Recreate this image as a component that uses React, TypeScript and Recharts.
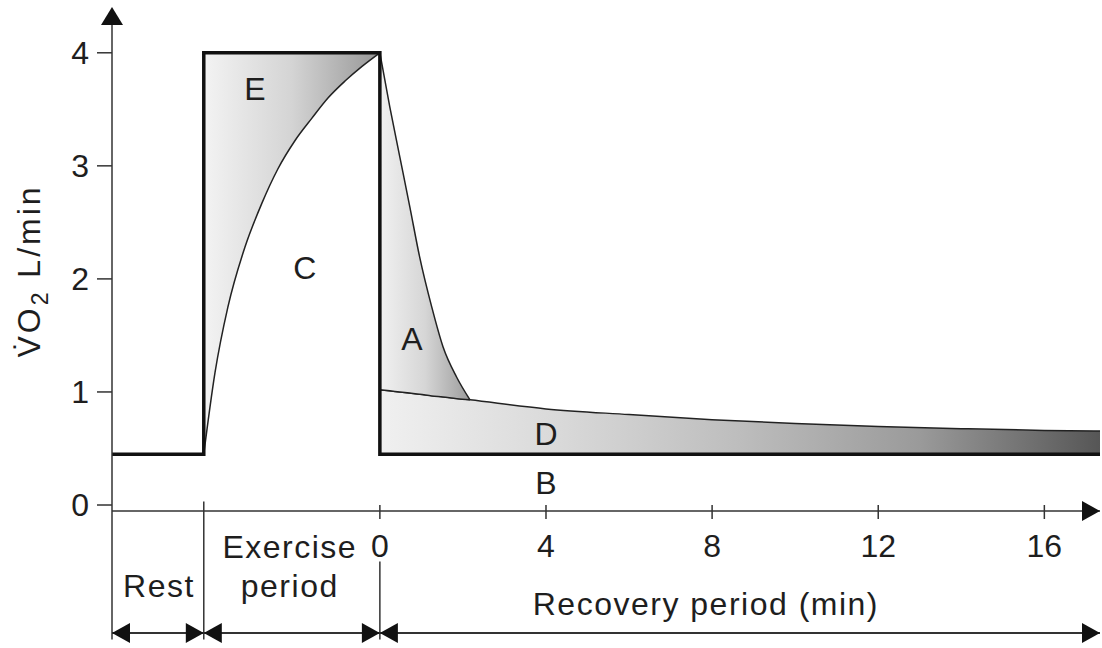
import React from "react";
import {
  ComposedChart,
  Area,
  Line,
  XAxis,
  YAxis,
  ReferenceLine,
  ReferenceDot,
} from "recharts";

const FONT = "'Liberation Sans', Arial, Helvetica, sans-serif";
const INK = "#1e1e1e";

// time in minutes, 0 = end of exercise
const T_MIN = -6.45;
const T_MAX = 17.34;
const EX_START = -4.24;
const REST_VO2 = 0.45;
const PEAK_VO2 = 4.0;

const recoveryTicks = [0, 4, 8, 12, 16];
const vo2Ticks = [0, 1, 2, 3, 4];

// rising O2 uptake during exercise (curve C)
const exerciseT = [-4.24, -3.97, -3.66, -3.25, -2.84, -2.46, -2.05, -1.64, -1.25, -0.84, -0.43, 0];
const exerciseVO2 = [0.45, 1.17, 1.75, 2.28, 2.67, 2.97, 3.22, 3.42, 3.6, 3.75, 3.88, 4.0];

// fast recovery component (curve A) and slow curve under it
const fastT = [0, 0.24, 0.48, 0.72, 0.96, 1.25, 1.52, 1.85, 2.17];
const fastVO2 = [4.0, 3.52, 3.08, 2.64, 2.19, 1.75, 1.4, 1.13, 0.93];
const slowUnderFast = [1.02, 1.01, 1.0, 0.99, 0.98, 0.965, 0.955, 0.94, 0.93];

// slow recovery component (curve D)
const slowT = [0, 2.17, 4, 6, 8, 10, 12, 14, 16, 17.34];
const slowVO2 = [1.02, 0.93, 0.85, 0.8, 0.755, 0.72, 0.695, 0.675, 0.66, 0.655];

// thick outline: rest, exercise demand, rest baseline
const outlineT = [T_MIN, EX_START, EX_START, 0, 0, T_MAX];
const outlineVO2 = [REST_VO2, REST_VO2, PEAK_VO2, PEAK_VO2, REST_VO2, REST_VO2];

const regionNames = ["E", "C", "A", "D", "B"];
const regionT = [-3.01, -1.81, 0.77, 4.0, 4.0];
const regionV = [3.68, 2.1, 1.47, 0.63, 0.2];

const periodBounds = [T_MIN, EX_START, 0, T_MAX];

const areaE = exerciseT.map((t, i) => ({ t, range: [exerciseVO2[i], PEAK_VO2] }));
const areaA = fastT.map((t, i) => ({ t, range: [slowUnderFast[i], fastVO2[i]] }));
const areaD = slowT.map((t, i) => ({ t, range: [REST_VO2, slowVO2[i]] }));
const outline = outlineT.map((t, i) => ({ t, v: outlineVO2[i] }));

const ARROW_Y = -1.132;
const SEP_BOTTOM = -1.19;

function XTick(props: any) {
  const { x, y, payload } = props;
  return (
    <g>
      <line x1={x} x2={x} y1={y - 6} y2={y + 8} stroke="#333" strokeWidth={1.5} />
      <text x={x} y={y + 46} textAnchor="middle" fontSize={32} fill={INK} fontFamily={FONT}>
        {payload.value}
      </text>
    </g>
  );
}

const textAt = (label: string, size = 32) => (p: any) => (
  <text
    x={p.cx}
    y={p.cy}
    dy="0.36em"
    textAnchor="middle"
    fontSize={size}
    fill={INK}
    fontFamily={FONT}
  >
    {label}
  </text>
);

const baseText = (label: string) => (p: any) => (
  <text x={p.cx} y={p.cy} textAnchor="middle" fontSize={32} fill={INK} fontFamily={FONT} letterSpacing={1.5}>
    {label}
  </text>
);

const headLeft = (p: any) => (
  <polygon points={`${p.cx},${p.cy} ${p.cx + 18},${p.cy - 10} ${p.cx + 18},${p.cy + 10}`} fill="#111" />
);
const headRight = (p: any) => (
  <polygon points={`${p.cx},${p.cy} ${p.cx - 18},${p.cy - 10} ${p.cx - 18},${p.cy + 10}`} fill="#111" />
);
const headUp = (p: any) => (
  <polygon points={`${p.cx},${p.cy - 13} ${p.cx - 11},${p.cy + 5} ${p.cx + 11},${p.cy + 5}`} fill="#111" />
);

const yLabel = (p: any) => (
  <text
    x={p.cx}
    y={p.cy}
    transform={`rotate(-90, ${p.cx}, ${p.cy})`}
    textAnchor="middle"
    fontSize={32}
    fill={INK}
    fontFamily={FONT}
    letterSpacing={3}
  >
    {"V\u0307O"}
    <tspan fontSize={23} dy={8}>2</tspan>
    <tspan dy={-8}> L/min</tspan>
  </text>
);

export default function App() {
  return (
    <div style={{ position: "absolute", left: 0, top: 0, width: 1102, height: 648, background: "#fff" }}>
      <ComposedChart width={1102} height={648} margin={{ top: 20, right: 2, bottom: 107, left: 52 }}>
        <defs>
          <linearGradient id="gradE" x1="0" y1="0" x2="1" y2="0">
            <stop offset="0" stopColor="#f3f3f3" />
            <stop offset="0.5" stopColor="#d4d4d4" />
            <stop offset="1" stopColor="#979797" />
          </linearGradient>
          <linearGradient id="gradA" x1="0" y1="0" x2="1" y2="0">
            <stop offset="0" stopColor="#f1f1f1" />
            <stop offset="0.5" stopColor="#d6d6d6" />
            <stop offset="1" stopColor="#9c9c9c" />
          </linearGradient>
          <linearGradient id="gradD" x1="0" y1="0" x2="1" y2="0">
            <stop offset="0" stopColor="#f0f0f0" />
            <stop offset="0.25" stopColor="#d9d9d9" />
            <stop offset="0.5" stopColor="#bdbdbd" />
            <stop offset="0.75" stopColor="#9a9a9a" />
            <stop offset="1" stopColor="#565656" />
          </linearGradient>
        </defs>
        <XAxis
          type="number"
          dataKey="t"
          domain={[T_MIN, T_MAX]}
          allowDataOverflow
          ticks={recoveryTicks}
          interval={0}
          tickLine={false}
          tickSize={0}
          tickMargin={0}
          height={30}
          axisLine={{ stroke: "#333", strokeWidth: 1.5 }}
          tick={XTick}
        />
        <YAxis
          type="number"
          domain={[-0.053, 4.29]}
          allowDataOverflow
          ticks={vo2Ticks}
          interval={0}
          width={60}
          axisLine={false}
          tickLine={{ stroke: "#333", strokeWidth: 1.5 }}
          tickSize={15}
          tickMargin={8}
          tick={{ fontSize: 32, fill: INK, fontFamily: FONT }}
        />
        <Area data={areaE} dataKey="range" type="monotone" fill="url(#gradE)" fillOpacity={1} stroke="#222" strokeWidth={1.5} isAnimationActive={false} />
        <Area data={areaD} dataKey="range" type="monotone" fill="url(#gradD)" fillOpacity={1} stroke="#222" strokeWidth={1.5} isAnimationActive={false} />
        <Area data={areaA} dataKey="range" type="monotone" fill="url(#gradA)" fillOpacity={1} stroke="#222" strokeWidth={1.5} isAnimationActive={false} />
        <Line data={outline} dataKey="v" type="linear" stroke="#111" strokeWidth={3.5} dot={false} isAnimationActive={false} />

        {/* axes and period separators */}
        <ReferenceLine segment={[{ x: T_MIN, y: 4.29 }, { x: T_MIN, y: SEP_BOTTOM }]} stroke="#333" strokeWidth={1.5} ifOverflow="visible" />
        <ReferenceLine segment={[{ x: EX_START, y: 0.03 }, { x: EX_START, y: SEP_BOTTOM }]} stroke="#333" strokeWidth={1.5} ifOverflow="visible" />
        <ReferenceLine segment={[{ x: 0, y: -0.5 }, { x: 0, y: SEP_BOTTOM }]} stroke="#333" strokeWidth={1.5} ifOverflow="visible" />
        <ReferenceDot x={T_MIN} y={4.29} r={0} ifOverflow="visible" shape={headUp} />
        <ReferenceDot x={T_MAX} y={-0.053} r={0} ifOverflow="visible" shape={headRight} />

        {/* period arrows */}
        {periodBounds.slice(0, -1).map((from, i) => (
          <ReferenceLine
            key={`seg${i}`}
            segment={[{ x: from, y: ARROW_Y }, { x: periodBounds[i + 1], y: ARROW_Y }]}
            stroke="#333"
            strokeWidth={2}
            ifOverflow="visible"
          />
        ))}
        {periodBounds.slice(0, -1).map((from, i) => (
          <ReferenceDot key={`hl${i}`} x={from} y={ARROW_Y} r={0} ifOverflow="visible" shape={headLeft} />
        ))}
        {periodBounds.slice(1).map((to, i) => (
          <ReferenceDot key={`hr${i}`} x={to} y={ARROW_Y} r={0} ifOverflow="visible" shape={headRight} />
        ))}

        {/* region letters */}
        {regionNames.map((n, i) => (
          <ReferenceDot key={n} x={regionT[i]} y={regionV[i]} r={0} ifOverflow="visible" shape={textAt(n)} />
        ))}

        {/* period labels */}
        <ReferenceDot x={-5.32} y={-0.814} r={0} ifOverflow="visible" shape={baseText("Rest")} />
        <ReferenceDot x={-2.17} y={-0.469} r={0} ifOverflow="visible" shape={baseText("Exercise")} />
        <ReferenceDot x={-2.17} y={-0.814} r={0} ifOverflow="visible" shape={baseText("period")} />
        <ReferenceDot x={7.85} y={-0.973} r={0} ifOverflow="visible" shape={baseText("Recovery period (min)")} />

        {/* y axis title */}
        <ReferenceDot x={-8.19} y={2.07} r={0} ifOverflow="visible" shape={yLabel} />
      </ComposedChart>
    </div>
  );
}
